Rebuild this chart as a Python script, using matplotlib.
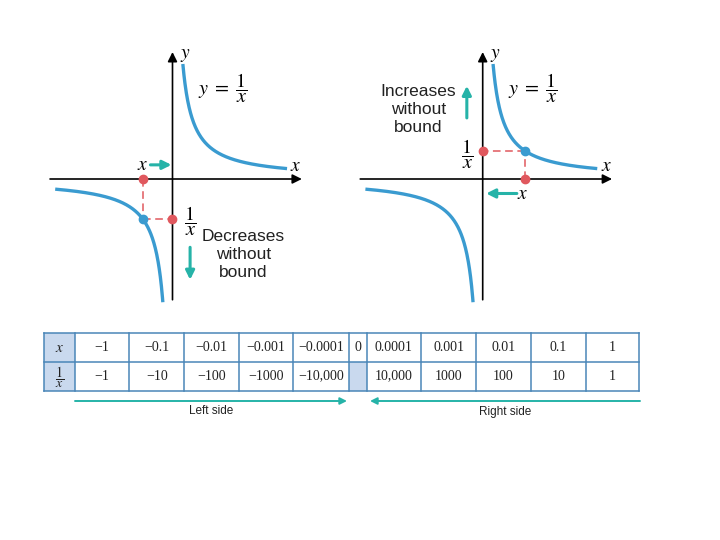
import numpy as np
import matplotlib.pyplot as plt
from matplotlib.patches import Rectangle

plt.rcParams['mathtext.fontset'] = 'stix'

# ---------------- data ----------------
branch_right = (0.30, 3.32)      # x-extent of branch in quadrant I
branch_left = (-3.40, -0.28)     # x-extent of branch in quadrant III
left_point_x = -0.855            # highlighted point, left graph
right_point_x = 1.24             # highlighted point, right graph
table_x = ['−1', '−0.1', '−0.01', '−0.001', '−0.0001', '0',
           '0.0001', '0.001', '0.01', '0.1', '1']
table_recip = ['−1', '−10', '−100', '−1000', '−10,000', '',
               '10,000', '1000', '100', '10', '1']
side_labels = ['Left side', 'Right side']

# ---------------- styles ----------------
CURVE = '#3A9BD0'
TEAL = '#26B3A8'
RED = '#E0585E'
FILL = '#C9D9EE'
BORDER = '#4A86B8'
TXT = '#222222'
SANS = 'Liberation Sans'
SERIF = 'Liberation Serif'

W, H = 720, 540
fig = plt.figure(figsize=(7.2, 5.4), dpi=100)
fig.patch.set_facecolor('white')

UNIT = 34.5
XL, XR, YB, YT = -3.7, 3.9, -3.6, 3.9


def graph_axes(ox, oy):
    left = ox + XL * UNIT
    right = ox + XR * UNIT
    top = oy - YT * UNIT
    bottom = oy - YB * UNIT
    ax = fig.add_axes([left / W, 1 - bottom / H, (right - left) / W, (bottom - top) / H])
    ax.set_xlim(XL, XR)
    ax.set_ylim(YB, YT)
    ax.axis('off')
    return ax


def draw_base(ax):
    ap = dict(arrowstyle='-|>', color='black', lw=1.2, mutation_scale=14,
              shrinkA=0, shrinkB=0)
    ax.annotate('', xy=(3.75, 0), xytext=(-3.55, 0), arrowprops=ap)
    ax.annotate('', xy=(0, 3.68), xytext=(0, -3.5), arrowprops=ap)
    for lo, hi in (branch_right, branch_left):
        xs = np.linspace(lo, hi, 300)
        ax.plot(xs, 1 / xs, color=CURVE, lw=2.4, solid_capstyle='butt', zorder=3)
    ax.text(0.36, 3.62, '$y$', fontsize=14, ha='center', va='center')
    ax.text(3.58, 0.38, '$x$', fontsize=14, ha='center', va='center')
    ax.text(1.45, 2.62, r'$y\;=\;\dfrac{1}{x}$', fontsize=14.5, ha='center', va='center')


def draw_point(ax, px):
    py = 1 / px
    kw = dict(color=RED, lw=1.1, dashes=(5, 3), zorder=2)
    ax.plot([px, px], [0, py], **kw)
    ax.plot([px, 0], [py, py], **kw)
    ax.plot([px], [0], 'o', color=RED, ms=6, zorder=4)
    ax.plot([0], [py], 'o', color=RED, ms=6, zorder=4)
    ax.plot([px], [py], 'o', color=CURVE, ms=6, zorder=4)


def teal_arrow(ax, start, end):
    ax.annotate('', xy=end, xytext=start,
                arrowprops=dict(arrowstyle='-|>', color=TEAL, lw=2.2,
                                mutation_scale=13, shrinkA=0, shrinkB=0))


# left graph
ax1 = graph_axes(172.5, 179)
draw_base(ax1)
draw_point(ax1, left_point_x)
ax1.text(-0.86, 0.41, '$x$', fontsize=14, ha='center', va='center')
teal_arrow(ax1, (-0.64, 0.41), (-0.03, 0.41))
ax1.text(0.50, -1.22, r'$\dfrac{1}{x}$', fontsize=14.5, ha='center', va='center')
ax1.text(2.05, -2.2, 'Decreases\nwithout\nbound', fontsize=12.5, family=SANS,
         ha='center', va='center', linespacing=1.25, color=TXT)
teal_arrow(ax1, (0.51, -1.98), (0.51, -2.92))

# right graph
ax2 = graph_axes(482.7, 179)
draw_base(ax2)
draw_point(ax2, right_point_x)
ax2.text(-1.87, 2.0, 'Increases\nwithout\nbound', fontsize=12.5, family=SANS,
         ha='center', va='center', linespacing=1.25, color=TXT)
teal_arrow(ax2, (-0.46, 1.77), (-0.46, 2.70))
ax2.text(-0.46, 0.70, r'$\dfrac{1}{x}$', fontsize=14.5, ha='center', va='center')
ax2.text(1.17, -0.42, '$x$', fontsize=14, ha='center', va='center')
teal_arrow(ax2, (0.99, -0.42), (0.10, -0.42))

# ---------------- table ----------------
axt = fig.add_axes([0, 0, 1, 1])
axt.set_xlim(0, W)
axt.set_ylim(H, 0)
axt.axis('off')
axt.patch.set_visible(False)

col_edges = [44, 75, 129.3, 184.3, 239, 293.3, 348.5, 366.5, 421, 476, 530.7, 585.7, 639.3]
row_edges = [333, 361.5, 390.5]
zero_col = table_x.index('0') + 1

axt.add_patch(Rectangle((col_edges[0], row_edges[0]), col_edges[1] - col_edges[0],
                        row_edges[2] - row_edges[0], facecolor=FILL, edgecolor='none'))
axt.add_patch(Rectangle((col_edges[zero_col], row_edges[1]),
                        col_edges[zero_col + 1] - col_edges[zero_col],
                        row_edges[2] - row_edges[1], facecolor=FILL, edgecolor='none'))
for xe in col_edges:
    axt.plot([xe, xe], [row_edges[0], row_edges[2]], color=BORDER, lw=1.1)
for ye in row_edges:
    axt.plot([col_edges[0], col_edges[-1]], [ye, ye], color=BORDER, lw=1.1)

yc_top = (row_edges[0] + row_edges[1]) / 2
yc_bot = (row_edges[1] + row_edges[2]) / 2
axt.text((col_edges[0] + col_edges[1]) / 2, yc_top, '$x$', fontsize=11,
         ha='center', va='center', color=TXT)
axt.text((col_edges[0] + col_edges[1]) / 2, yc_bot + 1, r'$\dfrac{1}{x}$', fontsize=10,
         ha='center', va='center', color=TXT)
for i, (a, b) in enumerate(zip(table_x, table_recip)):
    xc = (col_edges[i + 1] + col_edges[i + 2]) / 2
    axt.text(xc, yc_top, a, fontsize=10, family=SERIF, ha='center', va='center', color=TXT)
    if b:
        axt.text(xc, yc_bot, b, fontsize=10, family=SERIF, ha='center', va='center', color=TXT)

# bottom arrows
arr = dict(arrowstyle='-|>', color=TEAL, lw=1.4, mutation_scale=10, shrinkA=0, shrinkB=0)
axt.annotate('', xy=(347, 401), xytext=(75, 401), arrowprops=arr)
axt.annotate('', xy=(370, 401), xytext=(640, 401), arrowprops=arr)
axt.text(211, 411.5, side_labels[0], fontsize=8.5, family=SANS, ha='center',
         va='center', color=TXT)
axt.text(505, 411.5, side_labels[1], fontsize=8.5, family=SANS, ha='center',
         va='center', color=TXT)

fig.savefig('out.png', dpi=100, facecolor='white')
